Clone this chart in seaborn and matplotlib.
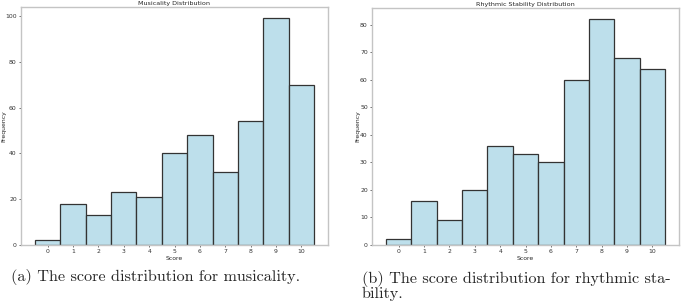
import matplotlib
matplotlib.use("Agg")
import matplotlib.pyplot as plt
import seaborn as sns
import pandas as pd

scores = list(range(11))
musicality_counts = [2, 18, 13, 23, 21, 40, 48, 32, 54, 99, 70]
rhythm_counts = [2, 16, 9, 20, 36, 33, 30, 60, 82, 68, 64]
titles = ["Musicality Distribution", "Rhythmic Stability Distribution"]
captions = ["(a) The score distribution for musicality.",
            "(b) The score distribution for rhythmic sta-\nbility."]

sns.set_style("white")
plt.rcParams['font.family'] = ['DejaVu Sans']

W, H = 685, 305
fig = plt.figure(figsize=(W / 100, H / 100), dpi=100)

boxes = [(21, 328, 7, 245), (372, 679, 8, 245)]
label_x = [6.5, 360]
series = [musicality_counts, rhythm_counts]

for (l, r, t, b), lx, counts, title in zip(boxes, label_x, series, titles):
    ax = fig.add_axes([l / W, (H - b) / H, (r - l) / W, (b - t) / H])
    df = pd.DataFrame({"Score": scores, "Count": counts})
    sns.histplot(data=df, x="Score", weights="Count", discrete=True,
                 color="#ADD8E6", alpha=0.8, edgecolor="#333333",
                 linewidth=0.9, ax=ax)
    ax.set_xticks(scores)
    ax.set_title(title, fontsize=4.6, pad=1.5)
    ax.set_xlabel("Score", fontsize=4.4, labelpad=1)
    ax.set_ylabel("Frequency", fontsize=4.4)
    ax.yaxis.set_label_coords((lx - l) / (r - l), 0.5)
    ax.tick_params(axis="both", labelsize=4.4, length=1.5, width=0.5,
                   pad=1.5, colors="#333333", left=True, bottom=True)
    for s in ax.spines.values():
        s.set_color("#c4c4c4")
        s.set_linewidth(1.0)

fig.text(11 / W, 1 - 281 / H, captions[0], family="cmr10", fontsize=11.7,
         ha="left", va="baseline")
fig.text(362 / W, 1 - 298 / H, captions[1], family="cmr10", fontsize=11.7,
         ha="left", va="baseline", linespacing=0.95)

fig.savefig("out.png", dpi=100)
